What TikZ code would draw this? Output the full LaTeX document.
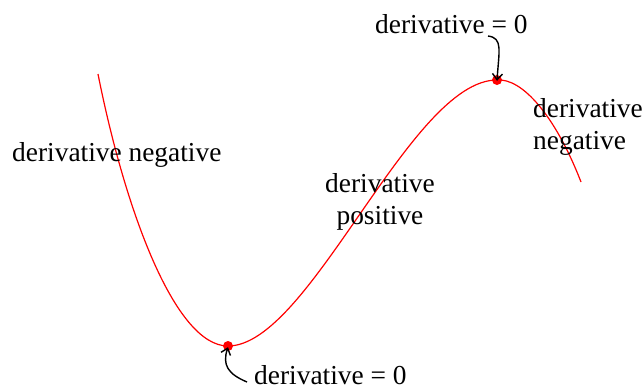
\documentclass[tikz,border=0pt]{standalone}
\usepackage{fontspec}
\setmainfont{Liberation Serif}
\usetikzlibrary{arrows.meta}
\begin{document}
\begin{tikzpicture}[x=1pt,y=-1pt,
  lbl/.style={inner sep=0pt,font=\fontsize{27.4}{31.5}\selectfont,align=left},
  curve/.style={red,line width=1.2pt},
  pointer/.style={black,line width=1.4pt,-{Straight Barb[length=6pt,width=10pt]}},
  dot/.style={circle,fill=red,inner sep=0pt,minimum size=10pt}]
\useasboundingbox (0,0) rectangle (644,389);
\coordinate (s) at (98,74);
\node[dot] (mn) at (228,346) {};
\node[dot] (mx) at (497,80) {};
\coordinate (e) at (581,182);
\draw[curve] (s) .. controls (125,210) and (175,346) .. (mn.center)
  .. controls (310,346) and (410,80) .. (mx.center)
  .. controls (522,78) and (555,115) .. (e);
\node[lbl,anchor=base west] (l1) at (12,161) {derivative negative};
\node[lbl,anchor=base west] (l2) at (375,33) {derivative = 0};
\node[lbl,anchor=base west] (l3) at (533,149) {derivative\\negative};
\node[lbl,anchor=base west,align=center] (l4) at (325,224) {derivative\\positive};
\node[lbl,anchor=base west] (l5) at (254,384) {derivative = 0};
\coordinate (a1) at (488,36);
\draw[pointer] (a1) .. controls (503,38) and (499,50) .. ([yshift=-6pt]mx.north);
\coordinate (a2) at (247,382);
\draw[pointer] (a2) .. controls (228,374) and (222,365) .. ([yshift=4pt]mn.south);
\end{tikzpicture}
\end{document}
